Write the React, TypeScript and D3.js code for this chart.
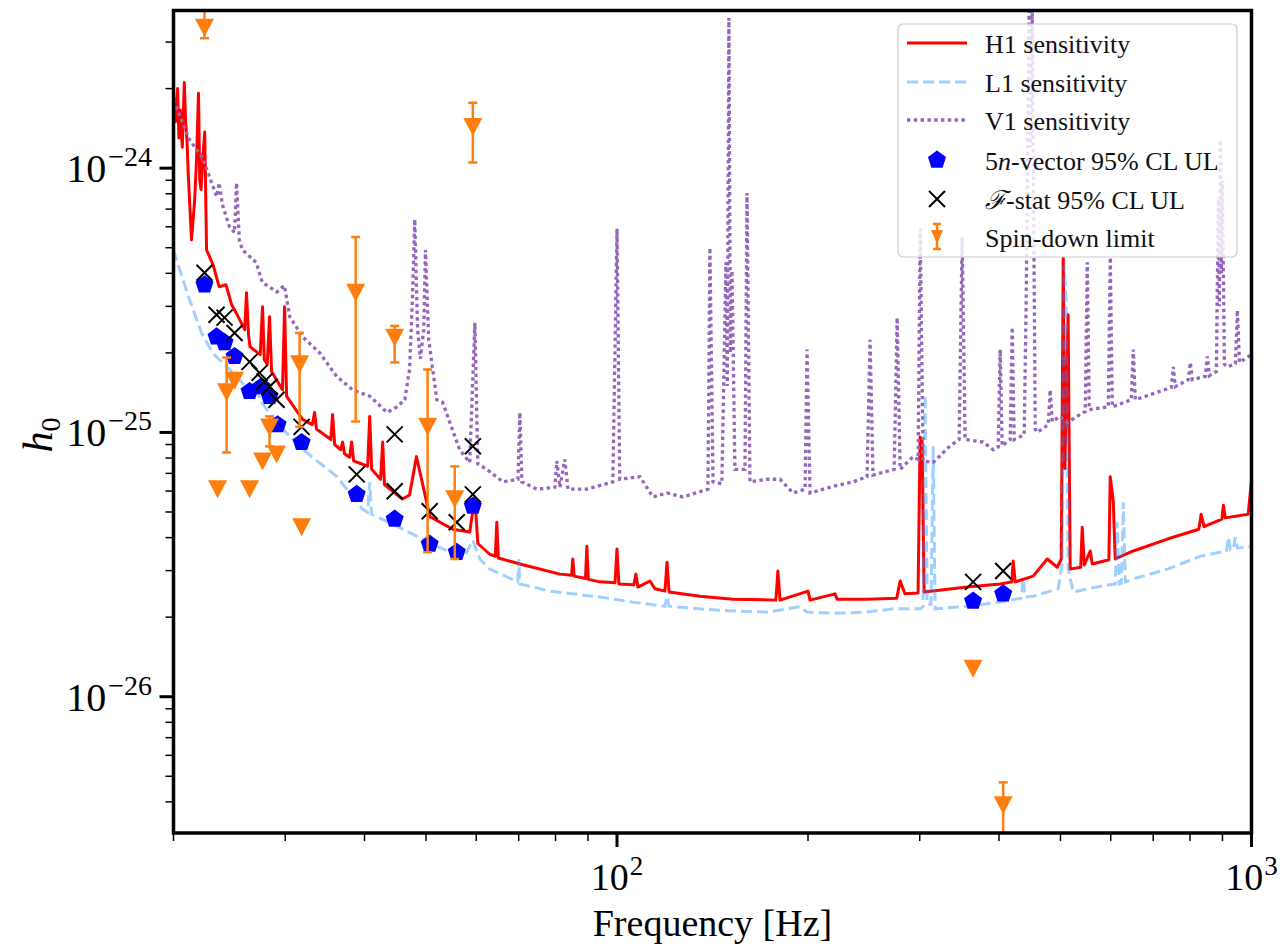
import React from 'react'
import * as d3 from 'd3'

// frequency [Hz], h0
const h1Sensitivity: [number, number][] = [
  [20.0, 1.89e-24], [20.15, 1.5e-24], [20.3, 2.0e-24], [20.4, 1.3e-24], [20.5, 1.66e-24],
  [20.65, 1.2e-24], [20.8, 2.11e-24], [20.9, 1.5e-24], [21.0, 1.28e-24], [21.1, 9.5e-25],
  [21.35, 5.35e-25], [21.6, 7.6e-25], [21.75, 1.1e-24], [21.9, 1.92e-24], [22.0, 9.0e-25],
  [22.1, 8.3e-25], [22.25, 1.1e-24], [22.4, 1.37e-24], [22.55, 4.9e-25], [23.1, 4.3e-25],
  [23.6, 3.56e-25], [24.2, 3.62e-25], [24.7, 3.04e-25],
  [25.1, 2.84e-25], [25.9, 2.45e-25], [26.07, 3.38e-25], [26.26, 2.34e-25], [26.4, 2.11e-25],
  [27.4, 1.97e-25], [27.63, 2.99e-25], [27.8, 1.89e-25], [28.1, 1.81e-25], [28.34, 2.74e-25],
  [28.55, 1.70e-25], [29.7, 1.45e-25], [29.93, 2.99e-25], [30.15, 1.37e-25], [31.95, 1.12e-25],
  [33.1, 1.07e-25], [33.37, 1.19e-25], [33.6, 1.03e-25], [35.4, 9.4e-26], [35.62, 1.17e-25],
  [35.9, 9.0e-26], [36.7, 8.6e-26], [36.94, 9.2e-26], [37.2, 8.3e-26], [37.9, 8.05e-26],
  [38.17, 9.2e-26], [38.45, 7.8e-26], [40.46, 7.45e-26], [40.76, 1.15e-25], [41.05, 7.25e-26],
  [42.4, 6.65e-26], [42.73, 9.2e-26], [43.0, 6.35e-26], [45.9, 5.6e-26], [47.1, 5.8e-26],
  [48.3, 8.1e-26], [49.2, 6.65e-26], [50.7, 4.8e-26], [55.1, 4.3e-26], [58.6, 4.2e-26],
  [59.7, 5.7e-26], [60.35, 3.8e-26], [63.0, 3.46e-26], [64.3, 3.4e-26], [64.65, 4.57e-26],
  [65.0, 3.35e-26], [70.3, 3.18e-26], [81.3, 2.91e-26], [84.8, 2.88e-26], [85.19, 3.32e-26],
  [85.6, 2.86e-26], [89.2, 2.8e-26], [89.64, 3.71e-26], [90.1, 2.78e-26], [94.0, 2.72e-26],
  [99.3, 2.7e-26], [100, 3.62e-26], [100.7, 2.67e-26], [106.3, 2.65e-26], [107.1, 2.91e-26],
  [107.9, 2.6e-26], [112.7, 2.74e-26], [114.8, 2.56e-26], [119.0, 2.51e-26], [119.9, 3.23e-26],
  [120.8, 2.49e-26], [135.1, 2.4e-26], [152.3, 2.34e-26], [178.0, 2.32e-26], [179.3, 2.99e-26],
  [180.7, 2.32e-26], [200, 2.51e-26], [201.5, 2.32e-26], [220.6, 2.45e-26], [222.3, 2.34e-26],
  [247.8, 2.34e-26], [276, 2.36e-26], [279.4, 2.74e-26], [284.4, 2.45e-26], [298.2, 2.47e-26],
  [300.4, 9.6e-26], [302.6, 9.4e-26], [304.8, 2.49e-26], [356.3, 2.6e-26], [401.8, 2.67e-26],
  [419, 2.72e-26], [421.1, 3.26e-26], [424.2, 2.72e-26], [452.8, 2.86e-26], [476.5, 3.32e-26],
  [494.2, 3.09e-26], [501.4, 3.32e-26], [505, 4.58e-25], [508, 7.3e-26], [514, 2.79e-25],
  [517.9, 3.04e-26], [538, 3.09e-26], [541, 4.38e-26], [545, 3.15e-26], [557, 3.56e-26],
  [561, 3.18e-26], [596, 3.3e-26], [598.9, 6.8e-26], [605.5, 5.5e-26], [609.9, 3.32e-26],
  [651, 3.56e-26], [737, 3.95e-26], [826, 4.3e-26], [833, 4.9e-26], [842, 4.4e-26],
  [898, 4.7e-26], [903, 5.3e-26], [909, 4.75e-26], [988, 4.9e-26], [1000, 6.6e-26],
]

const l1Sensitivity: [number, number][] = [
  [20.0, 4.9e-25], [20.22, 4.5e-25], [21.2, 3.18e-25], [22.14, 2.38e-25], [23.04, 2.0e-25],
  [25.14, 1.63e-25], [26.93, 1.355e-25], [27.13, 1.545e-25], [27.33, 1.33e-25], [29.07, 1.09e-25],
  [31.95, 8.63e-26], [36.15, 6.82e-26], [39.73, 5.12e-26], [40.46, 4.99e-26], [40.76, 6.48e-26],
  [41.05, 4.91e-26], [45.94, 4.31e-26], [51.97, 3.71e-26], [56.51, 3.40e-26], [57.75, 3.46e-26],
  [59.26, 3.91e-26], [60.79, 3.32e-26], [63.03, 3.04e-26], [69.77, 2.72e-26], [70.03, 3.32e-26],
  [70.28, 2.67e-26], [78.36, 2.51e-26], [93.96, 2.385e-26], [105.9, 2.28e-26], [119.0, 2.2e-26],
  [119.9, 2.4e-26], [120.8, 2.2e-26], [135.1, 2.15e-26], [152.3, 2.11e-26], [172.4, 2.09e-26],
  [194.3, 2.19e-26], [199.3, 2.09e-26], [219.0, 2.07e-26], [247.8, 2.09e-26], [272.4, 2.15e-26],
  [300.5, 2.15e-26], [303.7, 2.19e-26], [305.9, 1.39e-25], [308.2, 2.24e-26], [312.6, 2.24e-26],
  [315.0, 8.86e-26], [317.2, 2.15e-26], [356.3, 2.2e-26], [401.7, 2.28e-26], [433.5, 2.36e-26],
  [436.7, 2.79e-26], [439.9, 2.385e-26], [452.8, 2.4e-26], [495.7, 2.56e-26], [503.0, 3.18e-26],
  [506.6, 4.31e-25], [510.3, 3.18e-25], [514.2, 3.04e-26], [523.6, 2.49e-26], [577.5, 2.62e-26],
  [609.9, 2.67e-26], [614.4, 4.57e-26], [618.9, 2.67e-26], [623.5, 2.69e-26], [628.0, 5.44e-26],
  [632.6, 2.72e-26], [651, 2.79e-26], [737, 3.04e-26], [830.6, 3.40e-26], [912.9, 3.56e-26],
  [919.6, 4.01e-26], [926.3, 3.6e-26], [936.4, 3.62e-26], [943.2, 4.01e-26], [950.1, 3.65e-26],
  [1000, 3.71e-26],
]

const v1Sensitivity: [number, number][] = [
  [20.0, 1.81e-24], [21.2, 1.28e-24], [22.2, 1.10e-24], [23.4, 7.8e-25], [23.6, 8.8e-25],
  [23.9, 7.25e-25], [24.5, 6.0e-25], [24.96, 5.7e-25], [25.14, 8.8e-25], [25.4, 5.35e-25],
  [25.7, 4.9e-25], [27.0, 4.4e-25], [27.6, 3.7e-25], [29.1, 3.4e-25], [29.9, 3.6e-25],
  [30.5, 2.74e-25], [31.95, 2.3e-25], [34.0, 2.0e-25], [36.15, 1.63e-25], [38.3, 1.45e-25],
  [40.8, 1.37e-25], [43.4, 1.19e-25], [45.0, 1.25e-25], [46.3, 1.33e-25], [47.1, 1.73e-25],
  [47.6, 3.2e-25], [48.0, 6.4e-25], [48.5, 2.45e-25], [49.0, 1.9e-25], [49.6, 2.45e-25],
  [49.9, 4.9e-25], [50.5, 2.24e-25], [52.0, 1.33e-25], [53.1, 1.30e-25], [56.5, 8.6e-26],
  [58.6, 7.7e-26], [59.7, 2.6e-25], [60.35, 7.6e-26], [62.35, 7.25e-26], [66.1, 6.5e-26],
  [69.8, 6.65e-26], [70.3, 1.19e-25], [70.8, 6.5e-26], [74.8, 6.1e-26], [79.8, 6.2e-26],
  [80.4, 7.8e-26], [81.3, 6.2e-26], [82.75, 7.9e-26], [83.7, 6.1e-26], [89.6, 6.1e-26],
  [98.5, 6.5e-26], [100.0, 5.9e-25], [101.0, 6.65e-26], [108.7, 6.8e-26], [113.9, 5.7e-26],
  [119.9, 5.9e-26], [127.0, 5.7e-26], [139.1, 6.1e-26], [140.1, 5.0e-25], [141.7, 6.5e-26],
  [146.3, 6.4e-26], [148.5, 4.4e-25], [149.2, 1.5e-25], [150.1, 3.7e-24], [150.9, 2.0e-25],
  [151.8, 4.1e-25], [153.4, 7.25e-26], [159.1, 7.25e-26], [160.3, 8.05e-25], [162.0, 6.5e-26],
  [172.4, 6.65e-26], [180.7, 6.65e-26], [189.4, 5.9e-26], [197.9, 6.1e-26], [199.3, 2.06e-25],
  [201.5, 5.9e-26], [219.0, 6.25e-26], [235.5, 6.5e-26], [247.8, 6.8e-26], [250.5, 2.24e-25],
  [253.2, 6.9e-26], [273.4, 7.25e-26], [276.4, 2.72e-25], [279.4, 7.25e-26], [292.9, 8.1e-26],
  [298.3, 7.9e-26], [300.5, 5.9e-25], [303.7, 7.8e-26], [315.0, 7.7e-26], [335.0, 8.9e-26],
  [346.1, 9.4e-26], [349.9, 5.5e-25], [353.7, 9.4e-26], [377.7, 9.2e-26], [391.6, 8.6e-26],
  [398.8, 8.8e-26], [401.7, 2.06e-25], [404.6, 8.9e-26], [416.6, 9.4e-26], [419.6, 2.5e-25],
  [422.7, 9.4e-26], [438.3, 9.8e-26], [441.5, 3.2e-25], [446.3, 4.3e-24], [448.5, 1.2e-24],
  [451.2, 4.1e-24], [456.2, 1.03e-25], [459.5, 1.0e-25], [478.3, 1.07e-25], [481.7, 1.45e-25],
  [485.3, 1.10e-25], [499.3, 1.15e-25], [512.2, 1.09e-25], [547.0, 1.20e-25], [551.0, 4.4e-25],
  [555.0, 1.22e-25], [594.7, 1.25e-25], [599.0, 4.6e-25], [603.4, 1.25e-25], [646.4, 1.33e-25],
  [651.1, 2.06e-25], [655.9, 1.33e-25], [747.4, 1.48e-25], [752.9, 1.77e-25], [758.4, 1.49e-25],
  [795.1, 1.585e-25], [800.9, 1.84e-25], [806.7, 1.585e-25], [845.8, 1.63e-25], [852.0, 1.94e-25],
  [858.2, 1.64e-25], [880.3, 1.70e-25], [886.7, 7.6e-25], [889.9, 3.0e-25], [893.2, 1.28e-24],
  [896.4, 4.0e-25], [899.7, 9.0e-25], [906.3, 1.81e-25], [916.2, 1.77e-25], [943.2, 1.82e-25],
  [950.1, 2.9e-25], [957.1, 1.84e-25], [1000, 1.97e-25],
]

const fiveVectorUL: [number, number][] = [
  [22.38, 3.62e-25], [23.38, 2.30e-25], [24.07, 2.19e-25], [24.96, 1.94e-25], [26.36, 1.43e-25],
  [27.53, 1.49e-25], [28.34, 1.37e-25], [29.18, 1.07e-25], [31.84, 9.17e-26], [38.88, 5.83e-26],
  [44.63, 4.70e-26], [50.67, 3.78e-26], [55.90, 3.52e-26], [59.26, 5.26e-26], [364.1, 2.30e-26],
  [406.1, 2.45e-26],
]

const fStatUL: [number, number][] = [
  [22.38, 4.02e-25], [23.38, 2.79e-25], [24.07, 2.72e-25], [24.96, 2.38e-25], [26.36, 1.85e-25],
  [27.33, 1.68e-25], [27.83, 1.56e-25], [28.34, 1.49e-25], [29.07, 1.33e-25], [31.84, 1.05e-25],
  [38.88, 6.94e-26], [44.63, 9.83e-26], [44.63, 5.99e-26], [50.67, 5.03e-26], [55.90, 4.57e-26],
  [59.26, 8.86e-26], [59.26, 5.83e-26], [364.1, 2.72e-26], [406.1, 2.99e-26],
]

// frequency, h0 limit, upper error, lower error (null: no bar)
const spinDownLimit: [number, number, number | null, number | null][] = [
  [22.38, 3.4e-24, 5.0e-24, 3.1e-24],
  [59.26, 1.43e-24, 1.77e-24, 1.05e-24],
  [38.74, 3.38e-25, 5.49e-25, 1.10e-25],
  [24.25, 1.42e-25, 1.92e-25, 8.4e-26],
  [24.96, 1.57e-25, null, null],
  [23.47, 6.09e-26, null, null],
  [26.36, 6.09e-26, null, null],
  [27.63, 7.77e-26, null, null],
  [29.07, 8.26e-26, null, null],
  [28.34, 1.045e-25, 1.15e-25, 8.86e-26],
  [31.84, 4.38e-26, null, null],
  [31.61, 1.81e-25, 2.38e-25, 1.05e-25],
  [44.63, 2.28e-25, 2.53e-25, 1.84e-25],
  [50.30, 1.05e-25, 1.73e-25, 3.52e-26],
  [55.50, 5.59e-26, 7.44e-26, 3.32e-26],
  [364.1, 1.276e-26, null, null],
  [406.1, 3.88e-27, 4.74e-27, 2.5e-27],
]

const xMajorTicks = [100, 1000]
const xTickExponents = ['2', '3']
const yMajorTicks = [1e-24, 1e-25, 1e-26]
const yTickExponents = ['\u221224', '\u221225', '\u221226']

const RED = '#ff0000'
const L1BLUE = 'rgba(30,144,255,0.42)'
const PURPLE = '#9467bd'
const ORANGE = '#ff7f0e'

const box = { left: 173.5, right: 1251.5, top: 10.5, bottom: 833 }

const pentagon = (r: number) =>
  'M' + d3.range(5).map(i => {
    const a = -Math.PI / 2 + (i * 2 * Math.PI) / 5
    return [r * Math.cos(a), r * Math.sin(a)].join(',')
  }).join('L') + 'Z'

const triDown = (w: number, h: number) => `M0,${h}L${-w},${-h}L${w},${-h}Z`

const Cross = ({ cx, cy, s }: { cx: number, cy: number, s: number }) => (
  <path d={`M${cx - s},${cy - s}L${cx + s},${cy + s}M${cx - s},${cy + s}L${cx + s},${cy - s}`}
    stroke="#000" strokeWidth={2} fill="none" />
)

export default function App() {
  const x = d3.scaleLog().domain([20, 1000]).range([box.left, box.right])
  const y = d3.scaleLog().domain([3.05e-27, 3.95e-24]).range([box.bottom, box.top])

  const line = d3.line<[number, number]>().x(d => x(d[0])).y(d => y(d[1]))

  const xMinor = x.ticks().filter(v => !xMajorTicks.includes(v))
  const yMinor = y.ticks().filter(v => !yMajorTicks.some(m => Math.abs(m - v) / m < 1e-6))
    .filter(v => y(v) >= box.top && y(v) <= box.bottom)

  const legendX = 907
  const legendText = 985
  const rows = [43, 82, 120, 160, 199, 237]

  return (
    <svg width={1284} height={947} style={{ position: 'absolute', left: 0, top: 0, background: '#fff' }}
      fontFamily="'Liberation Serif', 'DejaVu Serif', serif">
      <defs>
        <clipPath id="plotArea">
          <rect x={box.left} y={box.top} width={box.right - box.left} height={box.bottom - box.top} />
        </clipPath>
      </defs>

      <g clipPath="url(#plotArea)">
        <path d={line(h1Sensitivity) || ''} fill="none" stroke={RED} strokeWidth={3} strokeLinejoin="round" />
        <path d={line(l1Sensitivity) || ''} fill="none" stroke={L1BLUE} strokeWidth={3} strokeDasharray="11 5" />
        <path d={line(v1Sensitivity) || ''} fill="none" stroke={PURPLE} strokeWidth={3.3} strokeDasharray="3.4 3.4" />

        {fiveVectorUL.map((d, i) => (
          <path key={'p' + i} d={pentagon(9.5)} transform={`translate(${x(d[0])},${y(d[1])})`} fill="#0000ff" />
        ))}
        {fStatUL.map((d, i) => <Cross key={'x' + i} cx={x(d[0])} cy={y(d[1])} s={8} />)}

        {spinDownLimit.map((d, i) => {
          const cx = x(d[0])
          return (
            <g key={'s' + i} stroke={ORANGE} fill={ORANGE}>
              {d[2] !== null && d[3] !== null && (
                <g strokeWidth={2.5}>
                  <line x1={cx} x2={cx} y1={y(d[2])} y2={y(d[3])} />
                  <line x1={cx - 4.5} x2={cx + 4.5} y1={y(d[2])} y2={y(d[2])} />
                  <line x1={cx - 4.5} x2={cx + 4.5} y1={y(d[3])} y2={y(d[3])} />
                </g>
              )}
              <path d={triDown(9.5, 9)} transform={`translate(${cx},${y(d[1])})`} stroke="none" />
            </g>
          )
        })}
      </g>

      {/* ticks */}
      {xMajorTicks.map((v, i) => (
        <g key={'xt' + v}>
          <line x1={x(v)} x2={x(v)} y1={box.bottom} y2={box.bottom + 14} stroke="#000" strokeWidth={3} />
          <text x={x(v)} y={890} fontSize={38} textAnchor="middle">10<tspan dx={1} dy={-15} fontSize={27}>{xTickExponents[i]}</tspan></text>
        </g>
      ))}
      {xMinor.map(v => (
        <line key={'xm' + v} x1={x(v)} x2={x(v)} y1={box.bottom} y2={box.bottom + 8} stroke="#000" strokeWidth={1.5} />
      ))}
      {yMajorTicks.map((v, i) => (
        <g key={'yt' + i}>
          <line x1={box.left - 14} x2={box.left} y1={y(v)} y2={y(v)} stroke="#000" strokeWidth={3} />
          <text x={152} y={y(v) + 14} fontSize={40} textAnchor="end">10<tspan dx={2} dy={-16} fontSize={28}>{yTickExponents[i]}</tspan></text>
        </g>
      ))}
      {yMinor.map((v, i) => (
        <line key={'ym' + i} x1={box.left - 8} x2={box.left} y1={y(v)} y2={y(v)} stroke="#000" strokeWidth={1.5} />
      ))}

      <rect x={box.left} y={box.top} width={box.right - box.left} height={box.bottom - box.top}
        fill="none" stroke="#000" strokeWidth={3.5} />

      <text x={(box.left + box.right) / 2} y={936} fontSize={38} textAnchor="middle">Frequency [Hz]</text>
      <text transform="translate(52,435) rotate(-90)" fontSize={42} textAnchor="middle" fontStyle="italic">h<tspan fontSize={28} dy={8} fontStyle="normal">0</tspan></text>

      {/* legend */}
      <rect x={898} y={24} width={339} height={233} rx={5} fill="#fff" fillOpacity={0.8} stroke="#cccccc" strokeWidth={1.2} />
      <line x1={legendX} x2={legendX + 60} y1={rows[0]} y2={rows[0]} stroke={RED} strokeWidth={3} />
      <line x1={legendX} x2={legendX + 60} y1={rows[1]} y2={rows[1]} stroke={L1BLUE} strokeWidth={3} strokeDasharray="11 5" />
      <line x1={legendX} x2={legendX + 60} y1={rows[2]} y2={rows[2]} stroke={PURPLE} strokeWidth={3.3} strokeDasharray="3.4 3.4" />
      <path d={pentagon(9.5)} transform={`translate(937,${rows[3]})`} fill="#0000ff" />
      <Cross cx={937} cy={rows[4]} s={8} />
      <g stroke={ORANGE} strokeWidth={2.5}>
        <line x1={937} x2={937} y1={rows[5] - 13} y2={rows[5] + 12} />
        <line x1={933} x2={941} y1={rows[5] - 13} y2={rows[5] - 13} />
        <line x1={933} x2={941} y1={rows[5] + 12} y2={rows[5] + 12} />
      </g>
      <path d={triDown(6, 7)} transform={`translate(937,${rows[5]})`} fill={ORANGE} />

      <g fontSize={26} fill="#111">
        <text x={legendText} y={rows[0] + 10}>H1 sensitivity</text>
        <text x={legendText} y={rows[1] + 10}>L1 sensitivity</text>
        <text x={legendText} y={rows[2] + 10}>V1 sensitivity</text>
        <text x={legendText} y={rows[3] + 10}>5<tspan fontStyle="italic">n</tspan>-vector 95% CL UL</text>
        <text x={legendText} y={rows[4] + 10}><tspan fontFamily="'DejaVu Serif', serif" fontStyle="italic">{'\u2131'}</tspan>-stat 95% CL UL</text>
        <text x={legendText} y={rows[5] + 10}>Spin-down limit</text>
      </g>
    </svg>
  )
}
